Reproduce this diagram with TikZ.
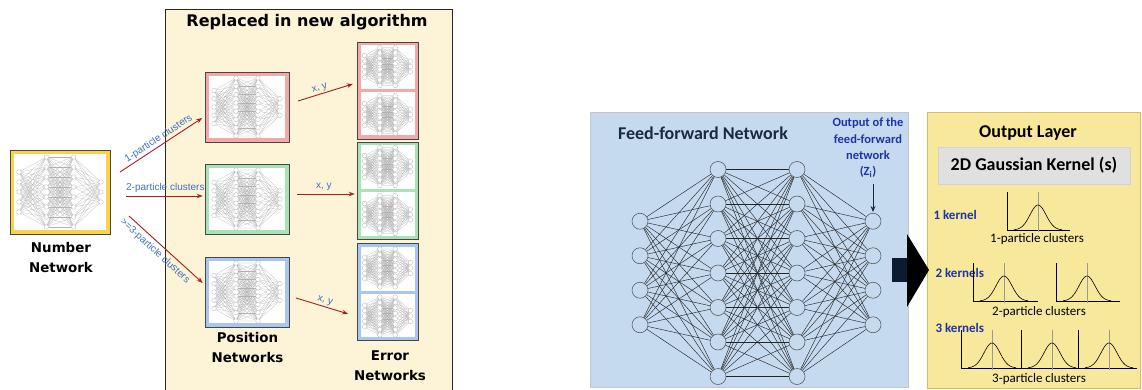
\documentclass[tikz,border=0pt]{standalone}
\usepackage{fontspec}
\newfontfamily\dejavu{DejaVu Sans}
\newfontfamily\liber{Liberation Sans}
\newfontfamily\calib{Carlito}
\usetikzlibrary{arrows.meta}
\usetikzlibrary{shadows}

\definecolor{creamfill}{HTML}{FDF3D6}
\definecolor{goldline}{HTML}{F9D348}
\definecolor{pinkline}{HTML}{F4A9A8}
\definecolor{greenline}{HTML}{A9E2B5}
\definecolor{blueline}{HTML}{A9C5F2}
\definecolor{arrowred}{HTML}{A51F1F}
\definecolor{labelblue}{HTML}{3D6FBF}
\definecolor{panelblue}{HTML}{C5DAEF}
\definecolor{panelyellow}{HTML}{F8E89C}
\definecolor{panelgold}{HTML}{D9BF55}
\definecolor{inkblue}{HTML}{1F34A4}
\definecolor{navytext}{HTML}{1A2940}
\definecolor{navyshaft}{HTML}{0D1B2E}
\definecolor{kernelgray}{HTML}{E0E0E0}

\tikzset{
  tnode/.style={circle, draw=gray!65, fill=white, line width=0.25pt, inner sep=0pt, minimum size=4.6pt},
  tedge/.style={draw=gray!60, line width=0.18pt},
  mininet/.pic={
    \foreach \n [count=\ly] in {5,8,8,3}
      \foreach \i in {1,...,\n}
        \node[tnode] (-n\ly-\i) at ({(\ly-1)/3-0.5}, {(\i-(\n+1)/2)/7}) {};
    \foreach \p/\np/\q/\nq in {1/5/2/8, 2/8/3/8, 3/8/4/3}
      \foreach \i in {1,...,\np}
        \foreach \j in {1,...,\nq}
          \draw[tedge] (-n\p-\i) -- (-n\q-\j);
  },
  gauss/.pic={
    \draw[line width=0.5pt] (0,0) -- (#1,0);
    \draw[line width=0.5pt] (0,0) -- (0,-38);
    \draw[gray!80, line width=0.4pt] (31,2) -- (31,-38);
    \draw[line width=0.6pt] plot[domain=-24:24, samples=41, smooth] ({31+\x}, {-25*exp(-0.5*((\x/8)^2))});
  },
}

\begin{document}
\begin{tikzpicture}[x=1pt, y=-1pt,
  netbox/.style={draw=gray!55!black, line width=0.6pt, fill=#1, inner sep=0pt,
    path picture={\fill[white] ([shift={(4pt,-4pt)}]path picture bounding box.north west)
      rectangle ([shift={(-4pt,4pt)}]path picture bounding box.south east);}},
  errbox/.style={draw=gray!55!black, line width=0.6pt, fill=#1, inner sep=0pt,
    minimum width=61pt, minimum height=97pt,
    path picture={\fill[white] ([shift={(3.5pt,-3.5pt)}]path picture bounding box.north west)
      rectangle ([shift={(-3.5pt,1.5pt)}]path picture bounding box.east);
      \fill[white] ([shift={(3.5pt,-1.5pt)}]path picture bounding box.west)
      rectangle ([shift={(-3.5pt,3.5pt)}]path picture bounding box.south east);}},
  feed/.style={draw=arrowred, line width=0.9pt, -{Stealth[length=6pt, width=4.5pt]}},
  clusterlbl/.style={font=\liber\fontsize{10}{12}\selectfont, text=labelblue, inner sep=1.5pt},
  titletext/.style={font=\dejavu\bfseries\fontsize{16}{19}\selectfont},
  captext/.style={font=\dejavu\bfseries\fontsize{13.4}{20}\selectfont, align=center},
  unit/.style={circle, draw=black!70, fill=panelblue, line width=0.5pt, minimum size=16pt, inner sep=0pt},
  link/.style={line width=0.45pt, black!85},
  headtext/.style={font=\calib\bfseries\fontsize{18}{22}\selectfont},
  kerneltext/.style={font=\calib\bfseries\fontsize{13}{15}\selectfont, text=inkblue, anchor=west},
  clustext/.style={font=\calib\fontsize{13}{15}\selectfont},
]
\useasboundingbox (0,0) rectangle (1142,390);

% left half
\node[draw=gray!30!black, line width=0.6pt, fill=creamfill, minimum width=287pt, minimum height=383pt] (mid) at (308.5,200.5) {};
\node[titletext] (ttl) at (307,22) {Replaced in new algorithm};

\node[draw=gray!55!black, line width=0.6pt, fill=goldline, inner sep=0pt, minimum width=100pt, minimum height=84pt,
  path picture={\fill[white] ([shift={(4pt,-4pt)}]path picture bounding box.north west)
    rectangle ([shift={(-4pt,4pt)}]path picture bounding box.south east);}] (nn) at (60,192) {};
\pic (netn) [xscale=82, yscale=70] at (nn) {mininet};
\node[captext] (nntxt) at (61,258) {Number\\Network};

\node[netbox=pinkline, minimum width=84pt, minimum height=70pt] (pr) at (247,107) {};
\node[netbox=greenline, minimum width=84pt, minimum height=70pt] (pg) at (247,199) {};
\node[netbox=blueline, minimum width=84pt, minimum height=70pt] (pb) at (247,292) {};
\pic (netpr) [xscale=66, yscale=58] at (pr) {mininet};
\pic (netpg) [xscale=66, yscale=58] at (pg) {mininet};
\pic (netpb) [xscale=66, yscale=58] at (pb) {mininet};
\node[captext] (postxt) at (247.5,348) {Position\\Networks};

\node[errbox=pinkline] (er) at (387.5,90.5) {};
\node[errbox=greenline] (eg) at (387.5,190.5) {};
\node[errbox=blueline] (eb) at (387.5,292) {};
\foreach \e in {er,eg,eb} {
  \pic (net\e u) [xscale=46, yscale=38] at ([yshift=24pt]\e.center) {mininet};
  \pic (net\e d) [xscale=46, yscale=38] at ([yshift=-24pt]\e.center) {mininet};
}
\node[captext] (errtxt) at (390,366) {Error\\Networks};

% cluster arrows
\coordinate (t1) at (120,172);
\coordinate (t2) at (126,196);
\coordinate (t3) at (129,216);
\draw[feed, shorten >=3pt] (t1) -- ([yshift=-9.4pt]pr.west)
  node[clusterlbl, midway, sloped, above] (l1) {1-particle clusters};
\draw[feed, shorten >=2pt] (t2) -- (t2 -| pg.west)
  node[clusterlbl, midway, above, yshift=1pt] (l2) {2-particle clusters};
\draw[feed, shorten >=2.7pt] (t3) -- ([yshift=7.2pt]pb.west)
  node[clusterlbl, pos=0.42, sloped, below=2pt] (l3) {>=3-particle clusters};

% x, y arrows
\coordinate (x1) at (298,101);
\coordinate (x2) at (297,194);
\coordinate (x3) at (296,298);
\draw[feed, shorten >=4pt] (x1) -- ([yshift=7.7pt]er.west)
  node[clusterlbl, pos=0.4, sloped, above] (xy1) {x, y};
\draw[feed, shorten >=2pt] (x2) -- (x2 -| eg.west)
  node[clusterlbl, pos=0.45, above, yshift=1pt] (xy2) {x, y};
\draw[feed, shorten >=9pt] (x3) -- ([yshift=-24.5pt]eb.west)
  node[clusterlbl, pos=0.45, sloped, above] (xy3) {x, y};

% right half
\node[draw=gray!45, line width=0.6pt, fill=panelblue, minimum width=318pt, minimum height=275pt] (ffp) at (749,249.5) {};
\node[headtext, text=navytext] (fftxt) at (703,133) {Feed-forward Network};

\foreach \n/\x [count=\ly] in {4/640, 7/718, 7/797, 4/873}
  \foreach \i in {1,...,\n}
    \node[unit] (u\ly-\i) at (\x, {273+(\i-(\n+1)/2)*34.5}) {};
\foreach \p/\np/\q/\nq in {1/4/2/7, 2/7/3/7, 3/7/4/4}
  \foreach \i in {1,...,\np}
    \foreach \j in {1,...,\nq}
      \draw[link] (u\p-\i) -- (u\q-\j);

\node[font=\calib\bfseries\fontsize{12.5}{16.3}\selectfont, text=inkblue, align=center] (outtxt) at (868,148)
  {Output of the\\feed-forward\\network\\(Z\textsubscript{i})};
\draw[navytext, line width=0.8pt, -{Stealth[length=6pt, width=5pt]}, shorten <=3pt, shorten >=1pt]
  (outtxt.south -| u4-1) -- (u4-1);

\node[draw=panelgold, line width=0.8pt, fill=panelyellow, minimum width=213pt, minimum height=276pt] (olp) at (1033.5,250) {};
\fill[navyshaft] (892,258) rectangle (907,282);
\fill[black] (907,234) -- (929,270) -- (907,307) -- cycle;

\node[headtext] (oltxt) at (1028,133) {Output Layer};
\node[headtext, draw=gray!35, line width=0.5pt, fill=kernelgray, minimum width=192pt, minimum height=37pt,
  drop shadow={opacity=0.25, shadow xshift=1pt, shadow yshift=-1pt}] (gk) at (1034,165.5) {2D Gaussian Kernel (s)};

\node[kerneltext] (k1) at (930,215) {1 kernel};
\node[kerneltext] (k2) at (932,273) {2 kernels};
\node[kerneltext] (k3) at (932,328) {3 kernels};

\pic (g1) at (1007,230) {gauss=63};
\pic (g2a) at (973,301) {gauss=65};
\pic (g2b) at (1056,301) {gauss=64};
\pic (g3a) at (961,368) {gauss=60};
\pic (g3b) at (1021,368) {gauss=57};
\pic (g3c) at (1078,368) {gauss=59};

\node[clustext] (c1) at (1037,239) {1-particle clusters};
\node[clustext] (c2) at (1039,312) {2-particle clusters};
\node[clustext] (c3) at (1039,379) {3-particle clusters};
\end{tikzpicture}
\end{document}
